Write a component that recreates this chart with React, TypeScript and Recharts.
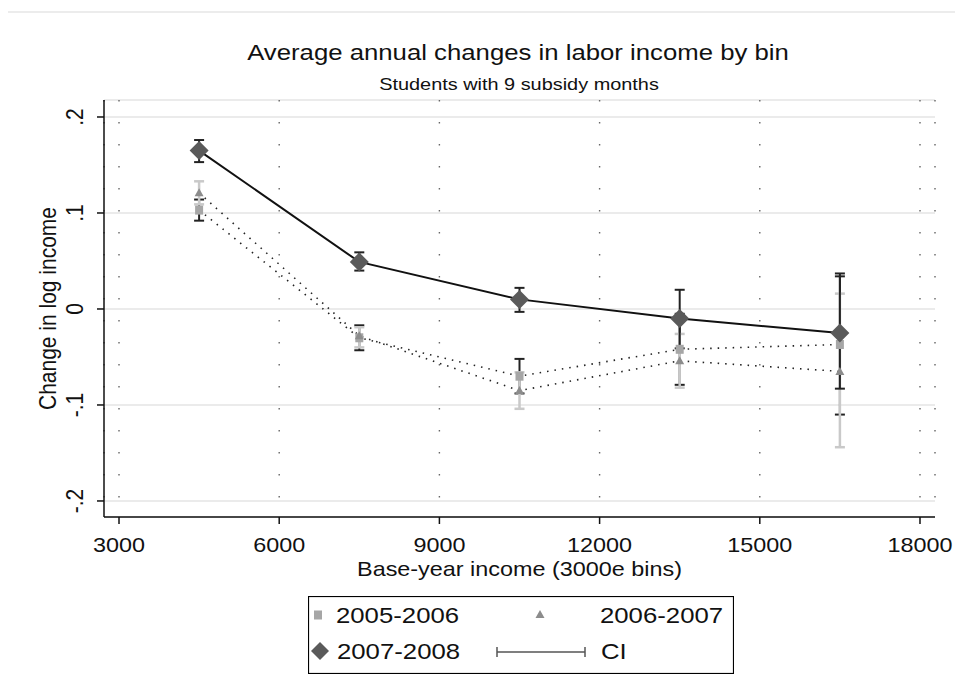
import { ComposedChart, Line, XAxis, YAxis, CartesianGrid, ErrorBar, Legend } from 'recharts'

// income bins (midpoints of the 3000e bins)
const bins = [4500, 7500, 10500, 13500, 16500]

// 2005-2006: mean change in log income and CI bounds
const chg0506 = [0.103, -0.03, -0.07, -0.042, -0.037]
const lo0506 = [0.092, -0.043, -0.088, -0.079, -0.11]
const hi0506 = [0.114, -0.017, -0.052, -0.005, 0.037]

// 2006-2007
const chg0607 = [0.121, -0.028, -0.085, -0.054, -0.065]
const lo0607 = [0.109, -0.04, -0.104, -0.082, -0.144]
const hi0607 = [0.133, -0.019, -0.066, -0.026, 0.016]

// 2007-2008
const chg0708 = [0.165, 0.049, 0.01, -0.01, -0.025]
const lo0708 = [0.153, 0.04, -0.003, -0.041, -0.083]
const hi0708 = [0.176, 0.059, 0.022, 0.02, 0.034]

const xTicks = [3000, 6000, 9000, 12000, 15000, 18000]
const yTicks = [-0.2, -0.1, 0, 0.1, 0.2]
const yTickLabels = ['-.2', '-.1', '0', '.1', '.2']

const FONT = '"Liberation Sans", Arial, sans-serif'
const STRETCH = 1.17

const rows = bins.map((bin, i) => ({
  bin,
  s0506: chg0506[i],
  e0506: [chg0506[i] - lo0506[i], hi0506[i] - chg0506[i]],
  s0607: chg0607[i],
  e0607: [chg0607[i] - lo0607[i], hi0607[i] - chg0607[i]],
  s0708: chg0708[i],
  e0708: [chg0708[i] - lo0708[i], hi0708[i] - chg0708[i]],
}))

// text drawn slightly wide, like the exported graph
function Txt({ x, y, size, anchor = 'middle', rotate = false, children }: any) {
  return (
    <g transform={`translate(${x},${y}) scale(${STRETCH},1)${rotate ? ' rotate(-90)' : ''}`}>
      <text x={0} y={0} textAnchor={anchor} fontSize={size} fontFamily={FONT} fill="#111">
        {children}
      </text>
    </g>
  )
}

const squareDot = (p: any) => (
  <rect key={`sq${p.index}`} x={p.cx - 4} y={p.cy - 4.5} width={8} height={9} fill="#a6a6a6" />
)
const triangleDot = (p: any) => (
  <path key={`tr${p.index}`} d={`M${p.cx},${p.cy - 4.5} L${p.cx + 4.5},${p.cy + 3.5} L${p.cx - 4.5},${p.cy + 3.5} Z`} fill="#8c8c8c" />
)
const diamondDot = (p: any) => (
  <path key={`di${p.index}`} d={`M${p.cx},${p.cy - 9.5} L${p.cx + 9.5},${p.cy} L${p.cx},${p.cy + 9.5} L${p.cx - 9.5},${p.cy} Z`} fill="#5a5a5a" />
)

function XTick({ x, y, payload }: any) {
  return <Txt x={x} y={y + 26} size={20}>{payload.value}</Txt>
}

function YTick({ x, y, payload }: any) {
  const i = yTicks.findIndex((t) => Math.abs(t - payload.value) < 1e-6)
  return <Txt x={x - 12} y={y} size={21} rotate>{yTickLabels[i]}</Txt>
}

function LegendBox() {
  return (
    <svg width={426} height={78}>
      <rect x={0.5} y={0.5} width={425} height={77} fill="#fff" stroke="#000" strokeWidth={1.2} />
      <rect x={6} y={14.5} width={8} height={9} fill="#a6a6a6" />
      <Txt x={28} y={27} size={22} anchor="start">2005-2006</Txt>
      <path d="M232,14 L236.5,22 L227.5,22 Z" fill="#8c8c8c" />
      <Txt x={292} y={27} size={22} anchor="start">2006-2007</Txt>
      <path d="M12,46 L21,55 L12,64 L3,55 Z" fill="#5a5a5a" />
      <Txt x={29} y={63} size={22} anchor="start">2007-2008</Txt>
      <g stroke="#555" strokeWidth={1.5}>
        <line x1={189} y1={56} x2={277} y2={56} />
        <line x1={189} y1={51} x2={189} y2={61} />
        <line x1={277} y1={51} x2={277} y2={61} />
      </g>
      <Txt x={293} y={63} size={22} anchor="start">CI</Txt>
    </svg>
  )
}

export default function App() {
  return (
    <div style={{ position: 'absolute', left: 0, top: 0, width: 955, height: 700, background: '#fff' }}>
      <div style={{ position: 'absolute', left: 8, right: 0, top: 11, height: 2, background: '#ececec' }} />
      <svg width={955} height={100} style={{ position: 'absolute', left: 0, top: 0 }}>
        <Txt x={518} y={60} size={22}>Average annual changes in labor income by bin</Txt>
        <Txt x={519} y={90} size={17}>Students with 9 subsidy months</Txt>
      </svg>
      <div style={{ position: 'absolute', left: 0, top: 0 }}>
        <ComposedChart width={955} height={700} data={rows} margin={{ top: 100, right: 20, bottom: 123, left: 0 }}>
          <CartesianGrid horizontal vertical={false} stroke="#e4e4e4" strokeWidth={1.5} />
          <CartesianGrid horizontal={false} vertical stroke="#666" strokeWidth={1.4} strokeDasharray="1.5 20.5" />
          <XAxis
            dataKey="bin"
            type="number"
            domain={[2719, 18281]}
            ticks={xTicks}
            allowDataOverflow
            height={60}
            stroke="#111"
            strokeWidth={1.5}
            tickSize={7}
            tick={<XTick />}
            label={{
              content: ({ viewBox }: any) => (
                <Txt x={viewBox.x + viewBox.width / 2} y={viewBox.y + 59} size={20}>
                  Base-year income (3000e bins)
                </Txt>
              ),
            }}
          />
          <YAxis
            type="number"
            domain={[-0.2167, 0.2177]}
            ticks={yTicks}
            allowDataOverflow
            width={104}
            stroke="#111"
            strokeWidth={1.5}
            tickSize={7}
            tick={<YTick />}
            label={{
              content: ({ viewBox }: any) => (
                <Txt x={56} y={viewBox.y + viewBox.height / 2} size={21} rotate>
                  Change in log income
                </Txt>
              ),
            }}
          />
          <Line dataKey="s0506" type="linear" stroke="#222" strokeWidth={1.6} strokeDasharray="1.5 6" dot={squareDot} activeDot={false} isAnimationActive={false} />
          <Line dataKey="s0607" type="linear" stroke="#222" strokeWidth={1.6} strokeDasharray="1.5 6" dot={triangleDot} activeDot={false} isAnimationActive={false} />
          <Line dataKey="s0708" type="linear" stroke="#111" strokeWidth={2} dot={diamondDot} activeDot={false} isAnimationActive={false} />
          {/* confidence intervals drawn on top of the markers */}
          <Line dataKey="s0506" stroke="none" dot={false} activeDot={false} legendType="none" isAnimationActive={false}>
            <ErrorBar dataKey="e0506" direction="y" width={5} stroke="#222" strokeWidth={2} isAnimationActive={false} />
          </Line>
          <Line dataKey="s0607" stroke="none" dot={false} activeDot={false} legendType="none" isAnimationActive={false}>
            <ErrorBar dataKey="e0607" direction="y" width={5} stroke="#c9c9c9" strokeWidth={2.5} isAnimationActive={false} />
          </Line>
          <Line dataKey="s0708" stroke="none" dot={false} activeDot={false} legendType="none" isAnimationActive={false}>
            <ErrorBar dataKey="e0708" direction="y" width={5} stroke="#222" strokeWidth={2} isAnimationActive={false} />
          </Line>
          <Legend
            layout="horizontal"
            verticalAlign="middle"
            align="center"
            wrapperStyle={{ left: 308, top: 596, width: 426, height: 78 }}
            content={() => <LegendBox />}
          />
        </ComposedChart>
      </div>
    </div>
  )
}
